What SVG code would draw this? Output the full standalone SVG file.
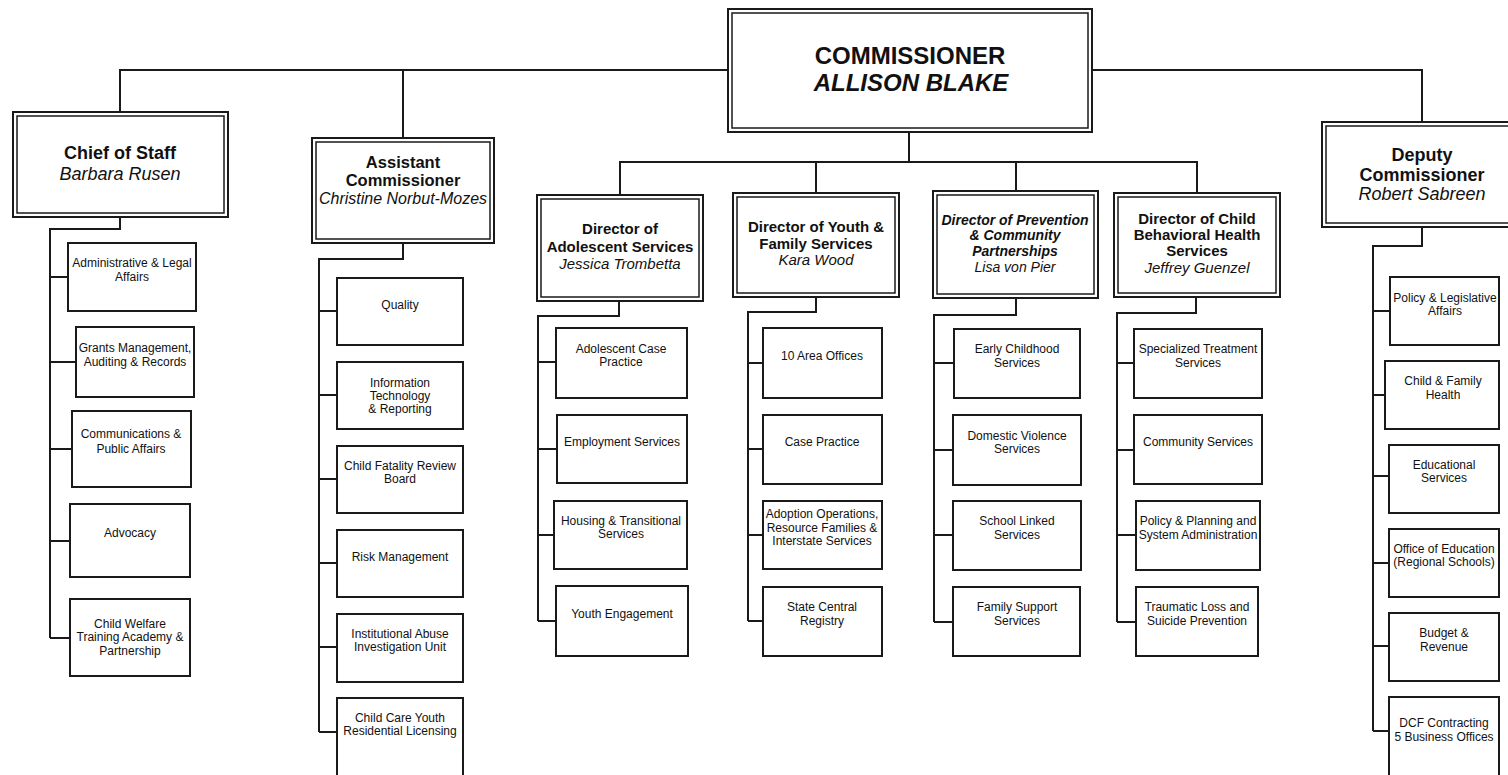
<svg xmlns="http://www.w3.org/2000/svg" width="1508" height="775" viewBox="0 0 1508 775">
<style>
.bg{fill:#fff}
.ob{fill:#fff;stroke:#1a1a1a;stroke-width:2}
.ib{fill:none;stroke:#1a1a1a;stroke-width:1.5}
.cb{fill:#fff;stroke:#1a1a1a;stroke-width:2}
.conn{fill:none;stroke:#1a1a1a;stroke-width:2}
text{font-family:"Liberation Sans",Arial,sans-serif;fill:#111;text-anchor:middle}
.c{font-size:12px}
.b{font-weight:bold}
.i{font-style:italic}
</style>
<rect class="bg" x="0" y="0" width="1508" height="775"/>
<g id="connectors">
<path class="conn" d="M120 112V70H728M1092 70H1422V122"/>
<path class="conn" d="M403 70V138"/>
<path class="conn" d="M909 132V162M620 195V162H1197V193M816 162V193M1016 162V191"/>
<path class="conn" d="M120 217V229H50V638M50 277H68M50 362H76M50 449H72M50 541H70M50 638H70"/>
<path class="conn" d="M403 243V259H319V732M319 311H337M319 395H337M319 479H337M319 563H337M319 647H337M319 732H337"/>
<path class="conn" d="M619 301V316H538V621M538 362H556M538 449H557M538 535H554M538 621H556"/>
<path class="conn" d="M816 297V312H748V621M748 363H763M748 449H763M748 535H763M748 621H763"/>
<path class="conn" d="M1016 298V315H934V622M934 363H954M934 450H953M934 535H953M934 622H953"/>
<path class="conn" d="M1196 297V313H1117V622M1117 363H1134M1117 450H1134M1117 535H1136M1117 622H1136"/>
<path class="conn" d="M1422 227V246H1373V731M1373 311H1390M1373 395H1385M1373 476H1389M1373 563H1389M1373 646H1389M1373 731H1389"/>
</g>
<g id="commissioner">
<rect class="ob" x="728" y="9" width="364" height="123"/><rect class="ib" x="732" y="13" width="356" height="115"/>
<text class="b" x="910" y="64" font-size="24">COMMISSIONER</text>
<text class="b i" x="911" y="91" font-size="24">ALLISON BLAKE</text>
</g>
<g id="chief-of-staff">
<rect class="ob" x="13" y="112" width="215" height="105"/><rect class="ib" x="17" y="116" width="207" height="97"/>
<text class="b" x="120" y="159" font-size="18">Chief of Staff</text>
<text class="i" x="120" y="180" font-size="18">Barbara Rusen</text>
</g>
<g id="assistant-commissioner">
<rect class="ob" x="312" y="138" width="182" height="105"/><rect class="ib" x="316" y="142" width="174" height="97"/>
<text class="b" x="403" y="168" font-size="16.5">Assistant</text>
<text class="b" x="403" y="186" font-size="16.5">Commissioner</text>
<text class="i" x="403" y="204" font-size="16">Christine Norbut-Mozes</text>
</g>
<g id="director-adolescent">
<rect class="ob" x="537" y="195" width="166" height="106"/><rect class="ib" x="541" y="199" width="158" height="98"/>
<text class="b" x="620" y="234" font-size="15">Director of</text>
<text class="b" x="620" y="252" font-size="15">Adolescent Services</text>
<text class="i" x="620" y="269" font-size="15">Jessica Trombetta</text>
</g>
<g id="director-youth-family">
<rect class="ob" x="733" y="193" width="166" height="104"/><rect class="ib" x="737" y="197" width="158" height="96"/>
<text class="b" x="816" y="232" font-size="15">Director of Youth &amp;</text>
<text class="b" x="816" y="249" font-size="15">Family Services</text>
<text class="i" x="816" y="265" font-size="15">Kara Wood</text>
</g>
<g id="director-prevention">
<rect class="ob" x="933" y="191" width="165" height="107"/><rect class="ib" x="937" y="195" width="157" height="99"/>
<text class="b i" x="1015" y="225" font-size="14">Director of Prevention</text>
<text class="b i" x="1015" y="240" font-size="14">&amp; Community</text>
<text class="b i" x="1015" y="256" font-size="14">Partnerships</text>
<text class="i" x="1015" y="272" font-size="14">Lisa von Pier</text>
</g>
<g id="director-behavioral">
<rect class="ob" x="1114" y="193" width="166" height="104"/><rect class="ib" x="1118" y="197" width="158" height="96"/>
<text class="b" x="1197" y="224" font-size="15">Director of Child</text>
<text class="b" x="1197" y="240" font-size="15">Behavioral Health</text>
<text class="b" x="1197" y="256" font-size="15">Services</text>
<text class="i" x="1197" y="273" font-size="15">Jeffrey Guenzel</text>
</g>
<g id="deputy-commissioner">
<rect class="ob" x="1322" y="122" width="200" height="105"/><rect class="ib" x="1326" y="126" width="192" height="97"/>
<text class="b" x="1422" y="161" font-size="18">Deputy</text>
<text class="b" x="1422" y="181" font-size="18">Commissioner</text>
<text class="i" x="1422" y="200" font-size="18">Robert Sabreen</text>
</g>
<g id="admin-legal"><rect class="cb" x="68" y="243" width="128" height="68"/><text class="c" x="132" y="267">Administrative &amp; Legal</text><text class="c" x="132" y="281">Affairs</text></g>
<g id="grants"><rect class="cb" x="76" y="327" width="118" height="70"/><text class="c" x="135" y="352">Grants Management,</text><text class="c" x="135" y="366">Auditing &amp; Records</text></g>
<g id="communications"><rect class="cb" x="72" y="411" width="119" height="76"/><text class="c" x="131" y="438">Communications &amp;</text><text class="c" x="131" y="453">Public Affairs</text></g>
<g id="advocacy"><rect class="cb" x="70" y="504" width="120" height="73"/><text class="c" x="130" y="537">Advocacy</text></g>
<g id="child-welfare-training"><rect class="cb" x="70" y="599" width="120" height="77"/><text class="c" x="130" y="628">Child Welfare</text><text class="c" x="130" y="641">Training Academy &amp;</text><text class="c" x="130" y="655">Partnership</text></g>
<g id="quality"><rect class="cb" x="337" y="278" width="126" height="67"/><text class="c" x="400" y="309">Quality</text></g>
<g id="it-reporting"><rect class="cb" x="337" y="362" width="126" height="67"/><text class="c" x="400" y="387">Information</text><text class="c" x="400" y="400">Technology</text><text class="c" x="400" y="413">&amp; Reporting</text></g>
<g id="child-fatality"><rect class="cb" x="337" y="446" width="126" height="67"/><text class="c" x="400" y="470">Child Fatality Review</text><text class="c" x="400" y="483">Board</text></g>
<g id="risk-management"><rect class="cb" x="337" y="530" width="126" height="67"/><text class="c" x="400" y="561">Risk Management</text></g>
<g id="institutional-abuse"><rect class="cb" x="337" y="614" width="126" height="68"/><text class="c" x="400" y="638">Institutional Abuse</text><text class="c" x="400" y="651">Investigation Unit</text></g>
<g id="child-care-licensing"><rect class="cb" x="337" y="698" width="126" height="80"/><text class="c" x="400" y="722">Child Care Youth</text><text class="c" x="400" y="735">Residential Licensing</text></g>
<g id="adolescent-case-practice"><rect class="cb" x="556" y="328" width="131" height="70"/><text class="c" x="621" y="353">Adolescent Case</text><text class="c" x="621" y="366">Practice</text></g>
<g id="employment-services"><rect class="cb" x="557" y="415" width="130" height="68"/><text class="c" x="622" y="446">Employment Services</text></g>
<g id="housing-transitional"><rect class="cb" x="554" y="501" width="133" height="68"/><text class="c" x="621" y="525">Housing &amp; Transitional</text><text class="c" x="621" y="538">Services</text></g>
<g id="youth-engagement"><rect class="cb" x="556" y="586" width="132" height="70"/><text class="c" x="622" y="618">Youth Engagement</text></g>
<g id="area-offices"><rect class="cb" x="763" y="328" width="119" height="70"/><text class="c" x="822" y="360">10 Area Offices</text></g>
<g id="case-practice"><rect class="cb" x="763" y="415" width="119" height="69"/><text class="c" x="822" y="446">Case Practice</text></g>
<g id="adoption-operations"><rect class="cb" x="763" y="501" width="119" height="68"/><text class="c" x="822" y="518">Adoption Operations,</text><text class="c" x="822" y="532">Resource Families &amp;</text><text class="c" x="822" y="545">Interstate Services</text></g>
<g id="state-central-registry"><rect class="cb" x="763" y="587" width="119" height="69"/><text class="c" x="822" y="611">State Central</text><text class="c" x="822" y="625">Registry</text></g>
<g id="early-childhood"><rect class="cb" x="954" y="329" width="126" height="69"/><text class="c" x="1017" y="353">Early Childhood</text><text class="c" x="1017" y="367">Services</text></g>
<g id="domestic-violence"><rect class="cb" x="953" y="415" width="128" height="70"/><text class="c" x="1017" y="440">Domestic Violence</text><text class="c" x="1017" y="453">Services</text></g>
<g id="school-linked"><rect class="cb" x="953" y="501" width="128" height="69"/><text class="c" x="1017" y="525">School Linked</text><text class="c" x="1017" y="539">Services</text></g>
<g id="family-support"><rect class="cb" x="953" y="587" width="127" height="69"/><text class="c" x="1017" y="611">Family Support</text><text class="c" x="1017" y="625">Services</text></g>
<g id="specialized-treatment"><rect class="cb" x="1134" y="329" width="128" height="69"/><text class="c" x="1198" y="353">Specialized Treatment</text><text class="c" x="1198" y="367">Services</text></g>
<g id="community-services"><rect class="cb" x="1134" y="415" width="128" height="69"/><text class="c" x="1198" y="446">Community Services</text></g>
<g id="policy-planning"><rect class="cb" x="1136" y="501" width="124" height="69"/><text class="c" x="1198" y="525">Policy &amp; Planning and</text><text class="c" x="1198" y="539">System Administration</text></g>
<g id="traumatic-loss"><rect class="cb" x="1136" y="587" width="122" height="69"/><text class="c" x="1197" y="611">Traumatic Loss and</text><text class="c" x="1197" y="625">Suicide Prevention</text></g>
<g id="policy-legislative"><rect class="cb" x="1390" y="277" width="109" height="68"/><text class="c" x="1445" y="302">Policy &amp; Legislative</text><text class="c" x="1445" y="315">Affairs</text></g>
<g id="child-family-health"><rect class="cb" x="1385" y="361" width="114" height="68"/><text class="c" x="1443" y="385">Child &amp; Family</text><text class="c" x="1443" y="399">Health</text></g>
<g id="educational-services"><rect class="cb" x="1389" y="445" width="110" height="68"/><text class="c" x="1444" y="469">Educational</text><text class="c" x="1444" y="482">Services</text></g>
<g id="office-of-education"><rect class="cb" x="1389" y="529" width="110" height="68"/><text class="c" x="1444" y="553">Office of Education</text><text class="c" x="1444" y="566">(Regional Schools)</text></g>
<g id="budget-revenue"><rect class="cb" x="1389" y="613" width="110" height="68"/><text class="c" x="1444" y="637">Budget &amp;</text><text class="c" x="1444" y="651">Revenue</text></g>
<g id="dcf-contracting"><rect class="cb" x="1389" y="697" width="110" height="81"/><text class="c" x="1444" y="727">DCF Contracting</text><text class="c" x="1444" y="741">5 Business Offices</text></g>
</svg>
